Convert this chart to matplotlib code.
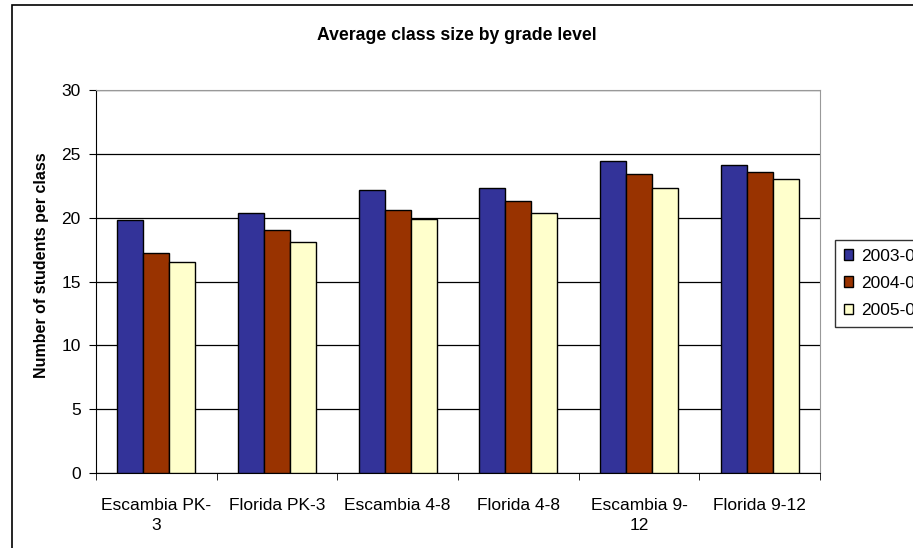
import matplotlib
matplotlib.use("Agg")
import matplotlib.pyplot as plt
import numpy as np
from matplotlib.patches import Rectangle

plt.rcParams["font.family"] = ["Liberation Sans", "DejaVu Sans"]

categories = ["Escambia PK-\n3", "Florida PK-3", "Escambia 4-8", "Florida 4-8",
              "Escambia 9-\n12", "Florida 9-12"]
years = ["2003-04", "2004-05", "2005-06"]
y2003 = [19.8, 20.4, 22.2, 22.3, 24.4, 24.1]
y2004 = [17.2, 19.0, 20.6, 21.3, 23.4, 23.6]
y2005 = [16.5, 18.1, 19.9, 20.4, 22.3, 23.0]
colors = ["#333399", "#993300", "#FFFFCC"]

fig = plt.figure(figsize=(9.13, 5.48), dpi=100)
# outer chart-area border (runs off right and bottom edges)
fig.patches.append(Rectangle((12 / 913, -0.05), 1.0, 1 - 5 / 548 + 0.05,
                             transform=fig.transFigure, fill=False,
                             edgecolor="black", linewidth=1.2))

ax = fig.add_axes([96 / 913, 1 - 473 / 548, 724 / 913, 383 / 548])

x = np.arange(len(categories))
w = 0.216
for i, (vals, c, lab) in enumerate(zip([y2003, y2004, y2005], colors, years)):
    ax.bar(x + (i - 1) * w, vals, width=w, color=c, edgecolor="black",
           linewidth=1.0, label=lab, zorder=3)

ax.set_xlim(-0.5, len(categories) - 0.5)
ax.set_ylim(0, 30)
ax.set_yticks(range(0, 31, 5))
ax.yaxis.grid(True, color="black", linewidth=0.9, zorder=0)
ax.set_xticks(x)
ax.set_xticklabels(categories, fontsize=12.5, linespacing=1.4)
ax.set_xticks(np.arange(-0.5, len(categories), 1), minor=True)
ax.tick_params(axis="x", which="major", length=0, pad=18)
ax.tick_params(axis="x", which="minor", length=5, direction="out")
ax.tick_params(axis="y", length=5, labelsize=12.5, direction="out", pad=6)

for s in ["top", "right"]:
    ax.spines[s].set_color("#999999")
for s in ["left", "bottom"]:
    ax.spines[s].set_color("black")

fig.text(42 / 913, 1 - 265 / 548, "Number of students per class",
         rotation=90, ha="center", va="center", fontsize=11.5,
         fontweight="bold")
fig.text(457 / 913, 1 - 36 / 548, "Average class size by grade level",
         ha="center", va="center", fontsize=12.7, fontweight="bold")

leg = ax.legend(loc="upper left", bbox_to_anchor=(835 / 913, 1 - 240 / 548),
                bbox_transform=fig.transFigure, fontsize=12.5, frameon=True,
                fancybox=False, edgecolor="black", handlelength=0.55,
                handleheight=0.55, handletextpad=0.45, labelspacing=0.7,
                borderpad=0.5, borderaxespad=0)
leg.get_frame().set_linewidth(1.0)

fig.savefig("out.png", dpi=100)
